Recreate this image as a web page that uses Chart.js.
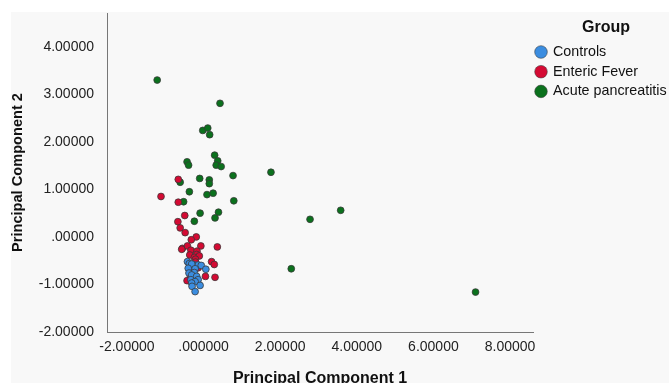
<!DOCTYPE html>
<html>
<head>
<meta charset="utf-8">
<script src="https://cdn.jsdelivr.net/npm/chart.js@4.4.1/dist/chart.umd.min.js"></script>
<style>
  html, body { margin: 0; padding: 0; background: #f8f8f8; overflow: hidden; }
  #wrap { width: 669px; height: 383px; position: relative; }
</style>
</head>
<body>
<div id="wrap"><canvas id="pca"></canvas></div>
<script>
// --- DONNEES (PC1, PC2) ---
const groupNames = ['Controls', 'Enteric Fever', 'Acute pancreatitis'];
const groupColors = ['#3b8de0', '#d40a33', '#0b711d'];

const controlsPoints = [
    [-0.42, -0.52], [-0.37, -0.56], [-0.27, -0.58], [-0.14, -0.59], [-0.06, -0.60],
    [-0.31, -0.57], [0.06, -0.68], [-0.22, -0.67], [-0.40, -0.66], [-0.24, -0.75],
    [-0.38, -0.76], [-0.31, -0.80], [-0.18, -0.83], [-0.33, -0.90], [-0.14, -0.90],
    [-0.22, -0.94], [-0.31, -0.97], [-0.09, -1.02], [-0.30, -1.04], [-0.22, -1.15]
];
const entericPoints = [
    [-0.66, 1.21], [-1.11, 0.85], [-0.66, 0.73], [-0.49, 0.45], [-0.67, 0.32],
    [-0.61, 0.19], [-0.48, 0.09], [-0.19, 0.00], [-0.32, -0.06], [-0.55, -0.24],
    [-0.42, -0.19], [-0.07, -0.19], [0.36, -0.21], [-0.57, -0.26], [-0.33, -0.28],
    [-0.17, -0.30], [-0.18, -0.37], [-0.36, -0.38], [-0.24, -0.43], [-0.11, -0.40],
    [-0.21, -0.47], [0.21, -0.52], [0.28, -0.58], [-0.21, -0.53], [-0.34, -0.64],
    [-0.14, -0.65], [0.05, -0.83], [0.30, -0.85], [-0.34, -0.83], [-0.43, -0.92],
    [-0.21, -0.85]
];
const pancreatitisPoints = [
    [-1.21, 3.30], [0.43, 2.81], [-0.02, 2.24], [0.11, 2.29], [0.16, 2.15],
    [0.29, 1.72], [0.37, 1.60], [0.33, 1.51], [0.46, 1.48], [-0.43, 1.58],
    [-0.39, 1.51], [0.77, 1.29], [-0.10, 1.23], [0.15, 1.20], [0.15, 1.12],
    [-0.61, 1.15], [-0.37, 0.95], [0.09, 0.89], [0.25, 0.92], [0.79, 0.76],
    [-0.52, 0.74], [-0.09, 0.50], [0.39, 0.52], [0.30, 0.40], [-0.24, 0.33],
    [1.76, 1.36], [2.78, 0.37], [3.58, 0.56], [2.29, -0.67], [7.10, -1.16]
];

// --- AXES ---
const xTicks = [-2, 0, 2, 4, 6, 8];
const xTickLabels = ['-2.00000', '.000000', '2.00000', '4.00000', '6.00000', '8.00000'];
const yTicks = [-2, -1, 0, 1, 2, 3, 4];
const yTickLabels = ['-2.00000', '-1.00000', '.00000', '1.00000', '2.00000', '3.00000', '4.00000'];

const toXY = pts => pts.map(p => ({ x: p[0], y: p[1] }));

// Fond : bande blanche en haut et a gauche
const backgroundPlugin = {
    id: 'bg',
    beforeDraw(chart) {
        const { ctx, width, height } = chart;
        ctx.save();
        ctx.fillStyle = '#ffffff';
        ctx.fillRect(0, 0, width, height);
        ctx.fillStyle = '#f8f8f8';
        ctx.fillRect(11, 12, width - 11, height - 12);
        ctx.restore();
    }
};

// Legende dessinee a la main (titre "Group")
const groupLegendPlugin = {
    id: 'groupLegend',
    afterDraw(chart) {
        const { ctx } = chart;
        ctx.save();
        ctx.fillStyle = '#111';
        ctx.font = 'bold 16px Arial';
        ctx.textAlign = 'center';
        ctx.textBaseline = 'middle';
        ctx.fillText('Group', 606, 28);
        ctx.font = '14.3px Arial';
        ctx.textAlign = 'left';
        groupNames.forEach((name, i) => {
            const y = 52 + i * 19.7;
            ctx.beginPath();
            ctx.arc(541, y, 6.3, 0, Math.PI * 2);
            ctx.fillStyle = groupColors[i];
            ctx.fill();
            ctx.lineWidth = 0.8;
            ctx.strokeStyle = 'rgba(60,60,60,0.7)';
            ctx.stroke();
            ctx.fillStyle = '#111';
            ctx.fillText(name, 553, y);
        });
        ctx.restore();
    }
};

const mkSet = (label, pts, color) => ({
    label: label,
    data: toXY(pts),
    backgroundColor: color,
    borderColor: 'rgba(55,55,55,0.85)',
    borderWidth: 0.9,
    pointRadius: 3.4,
    pointHoverRadius: 3.4
});

new Chart(document.getElementById('pca'), {
    type: 'scatter',
    data: {
        datasets: [
            mkSet(groupNames[0], controlsPoints, groupColors[0]),
            mkSet(groupNames[1], entericPoints, groupColors[1]),
            mkSet(groupNames[2], pancreatitisPoints, groupColors[2])
        ]
    },
    options: {
        responsive: true, maintainAspectRatio: false,
        animation: false,
        events: [],
        layout: { padding: { top: 13, right: 136, left: 0, bottom: 0 } },
        plugins: { legend: { display: false }, tooltip: { enabled: false } },
        scales: {
            x: {
                type: 'linear', min: -2.52, max: 8.6,
                grid: { display: false, drawTicks: false },
                border: { display: true, color: '#777', width: 1 },
                afterBuildTicks: s => { s.ticks = xTicks.map(v => ({ value: v })); },
                afterFit: s => { s.height = 51; },
                ticks: {
                    autoSkip: false, maxRotation: 0, padding: 7,
                    color: '#222', font: { family: 'Arial', size: 14 },
                    callback: v => xTickLabels[xTicks.indexOf(v)]
                },
                title: {
                    display: true, text: 'Principal Component 1', color: '#111',
                    font: { family: 'Arial', size: 16, weight: 'bold', lineHeight: 1 },
                    padding: { top: 0, bottom: -4 }
                }
            },
            y: {
                type: 'linear', min: -2, max: 4.71,
                grid: { display: false, drawTicks: false },
                border: { display: true, color: '#777', width: 1 },
                afterBuildTicks: s => { s.ticks = yTicks.map(v => ({ value: v })); },
                // largeur fixe + pas de marge auto en haut/bas
                afterFit: s => { s.width = 107; s.paddingTop = 0; s.paddingBottom = 0; },
                ticks: {
                    autoSkip: false, padding: 13,
                    color: '#222', font: { family: 'Arial', size: 14 },
                    callback: v => yTickLabels[yTicks.indexOf(v)]
                },
                title: {
                    display: true, text: 'Principal Component 2', color: '#111',
                    font: { family: 'Arial', size: 14.6, weight: 'bold', lineHeight: 1 },
                    padding: { top: 10.7, bottom: 0 }
                }
            }
        }
    },
    plugins: [backgroundPlugin, groupLegendPlugin]
});
</script>
</body>
</html>
